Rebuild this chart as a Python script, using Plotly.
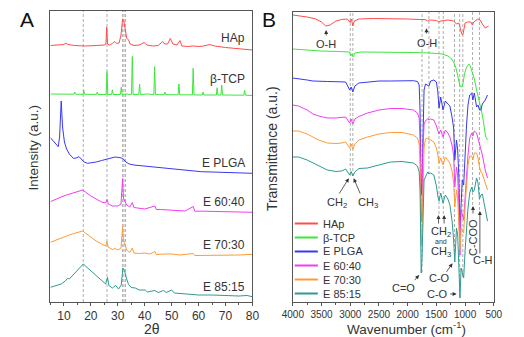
import plotly.graph_objects as go

# ---------------- Panel A : XRD (2theta, intensity a.u.) ----------------
xrd_hap = [(5, 256.5), (8, 257), (10, 257.5), (10.8, 259), (11.5, 257.5), (14, 256.5), (18, 256),
           (22, 256.5), (25, 257), (25.6, 258), (25.9, 275), (26.2, 258), (27, 257), (28, 258.5),
           (28.9, 260.5), (29.6, 258.5), (30.5, 259), (31.2, 267), (31.8, 283), (32.2, 282),
           (32.6, 275), (32.9, 272), (33.3, 264), (34.0, 262), (34.6, 258), (36, 256.5), (38, 257),
           (39.8, 259.5), (40.8, 257), (43, 256), (45, 256.5), (46.7, 260.5), (47.5, 258), (48.5, 258),
           (49.5, 263.5), (50.5, 258), (52, 257), (53.1, 261.5), (53.8, 256), (56, 255.5), (58, 256),
           (60, 255.5), (62, 256), (64, 257.5), (66, 256), (70, 254.5), (74, 253.5), (77, 253), (80, 252)]

xrd_tcp = [(5, 208), (10, 208), (13.7, 207.8), (14.0, 210), (14.3, 207.8), (17.1, 207.7), (17.4, 211.7),
           (17.7, 207.7), (20, 208), (22.1, 207.6), (22.4, 210), (22.7, 207.6), (25.7, 207.5), (26.0, 230.5),
           (26.3, 207.5), (27.7, 207.5), (28.0, 212.2), (28.3, 207.5), (31.0, 207.5), (31.3, 214.7),
           (31.6, 207.5), (33, 208), (35.1, 207.5), (35.4, 245.5), (35.7, 207.5), (37.8, 207.5),
           (38.1, 218), (38.4, 207.5), (41, 208), (43.4, 207.4), (43.7, 235.3), (44.0, 207.4),
           (47.2, 207.3), (47.5, 210), (47.8, 207.3), (50, 207.5), (52.4, 207.2), (52.7, 218),
           (53.0, 207.2), (55, 207.2), (57.7, 207.1), (58.0, 233.7), (58.3, 207.1), (61.4, 207),
           (61.7, 210), (62.0, 207), (64, 207.2), (66.6, 207), (66.9, 214.3), (67.2, 207), (68.3, 207),
           (68.6, 217), (68.9, 207), (72, 207), (76.8, 206.8), (77.1, 211.7), (77.4, 206.8), (80, 206.5)]

xrd_plga = [(5, 164.3), (6, 161), (7, 158), (7.9, 155.3), (8.4, 165), (9.0, 201), (9.5, 175), (10.2, 160),
            (11, 153), (12, 148), (13.5, 143.7), (14.6, 144), (15.6, 145.3), (16.5, 143), (17.5, 140),
            (18.8, 138.7), (20, 139), (22, 140), (24, 141.5), (26, 143), (28, 144.5), (29, 145),
            (30.5, 144.5), (31.8, 143.7), (33, 140), (34.3, 138), (36, 137), (38, 136.5), (40, 136),
            (45, 134.5), (48, 133.7), (50, 133), (55, 132), (57, 131.7), (61, 130.3), (65, 130),
            (70, 129.5), (75, 129), (80, 128.7)]

xrd_6040 = [(5, 100.3), (7, 103), (9, 105), (11, 107), (13, 108.5), (15, 110), (17, 112), (18, 110),
            (20, 106), (22, 103), (24, 100), (25.5, 99), (26.0, 102.5), (26.5, 98), (28, 96), (30, 96),
            (31.2, 98), (31.8, 123.5), (32.1, 104), (32.6, 101), (33.3, 97), (34.5, 95), (35.4, 99.5),
            (36, 94.5), (38, 94), (40, 93), (43.8, 96), (44.3, 92.5), (46, 92.5), (48, 92), (50, 91.5),
            (53, 91.5), (55, 91), (58.0, 95.5), (58.6, 90.8), (62, 90.8), (66, 90.5), (70, 90.5),
            (75, 90), (80, 89.7)]

xrd_7030 = [(5, 59.7), (7, 62), (9, 64), (11, 66), (13, 68), (15, 69.5), (17, 71), (18, 69), (20, 65),
            (22, 61), (24, 58), (25.5, 56), (26.0, 60.5), (26.4, 55), (28, 52.5), (29, 53.5), (30, 52),
            (31.2, 54), (31.8, 75.3), (32.1, 62), (32.6, 58), (33.3, 52), (34.5, 49.5), (35.4, 54),
            (36, 49), (38, 48.5), (40, 49), (42, 48), (43.8, 50.5), (44.3, 47.5), (47, 48), (50, 48),
            (53, 47), (58, 48.5), (58.6, 46.5), (62, 46.5), (66, 47), (70, 47), (75, 47), (80, 47.7)]

xrd_8515 = [(5, 14.7), (7, 16), (9, 18), (10.5, 21), (11.4, 23.7), (12, 23), (13, 26), (15, 32),
            (16.5, 37), (17.2, 38), (18, 36), (20, 31), (22, 26), (24, 21), (25.5, 18), (26.2, 24.7),
            (26.7, 16.5), (28, 14), (29.2, 16.5), (30.3, 13), (31.3, 17), (31.9, 34), (32.5, 31.5),
            (33.2, 24), (34, 17.5), (35, 14.5), (36.5, 14), (38, 12), (40.2, 12), (41, 10), (43.8, 11.5),
            (45, 9.5), (47, 11.5), (48, 9.5), (50, 12), (51, 9), (55, 8), (60, 7), (65, 7), (70, 6.5),
            (75, 6), (78, 6.5), (80, 5.3)]

xrd_ref_lines = [17.2, 26.0, 31.8, 32.3, 32.9]

# ---------------- Panel B : FTIR (wavenumber, transmittance a.u.) ----------------
ftir_hap = [(4000, 287), (3900, 286.5), (3750, 285), (3600, 283), (3500, 280), (3430, 276), (3350, 277),
            (3250, 281), (3150, 282.5), (3050, 283), (3000, 279.5), (2980, 283), (2955, 276), (2930, 281),
            (2850, 283), (2600, 283.5), (2300, 283.5), (2000, 283), (1800, 282.5), (1700, 282.5),
            (1650, 281), (1630, 282), (1600, 282), (1500, 281.5), (1460, 280), (1420, 281), (1300, 282),
            (1200, 281), (1150, 278), (1110, 279), (1090, 275), (1060, 268), (1040, 267), (1020, 273),
            (1000, 279), (960, 280), (900, 280), (875, 277), (850, 280), (780, 283), (740, 282),
            (700, 278), (650, 274), (620, 275), (590, 276)]

ftir_tcp = [(4000, 253), (3800, 252), (3500, 251), (3200, 250.5), (3010, 250), (2990, 246), (2970, 248),
            (2950, 245), (2920, 249), (2800, 250), (2500, 250), (2200, 250), (1900, 249.5), (1600, 249),
            (1400, 248), (1300, 246), (1250, 244), (1200, 240), (1160, 234), (1120, 224), (1090, 216),
            (1060, 215), (1040, 218), (1010, 228), (980, 234), (950, 237), (935, 238), (910, 236),
            (880, 230), (860, 226), (835, 222), (800, 212), (780, 207), (760, 202), (723, 192),
            (700, 187), (667, 175), (645, 166), (612, 162)]

wn_poly = [4000, 3900, 3750, 3650, 3550, 3400, 3250, 3150, 3080, 3010, 2985, 2955, 2920, 2850, 2700,
           2500, 2300, 2100, 1900, 1830, 1800, 1785, 1765, 1750, 1735, 1715, 1690, 1650, 1630, 1600,
           1545, 1500, 1475, 1455, 1425, 1385, 1345, 1300, 1265, 1225, 1200, 1180, 1150, 1130, 1110,
           1090, 1070, 1050, 1025, 1000, 975, 950, 920, 885, 865, 840, 800, 775, 750, 725, 700, 650, 610]

t_plga = [224, 223.5, 222, 221, 220.5, 220.5, 220.3, 220.5, 220, 212,
          215, 210, 216, 219, 220, 221, 221, 221.5, 221.3, 220.5,
          217, 192, 107, 120, 182, 212, 218, 217, 216, 221,
          222, 220, 210, 194, 205, 192, 201, 198, 196, 184,
          174, 142, 162, 152, 127, 72, 102, 122, 117, 152,
          177, 197, 207, 209, 202, 209, 195, 197, 192, 192,
          198, 202, 207]

t_6040 = [197, 196, 192, 188, 186, 184, 184, 185, 185, 179,
          183, 178, 183, 185.5, 189, 192, 193.5, 193.5, 192, 189,
          184, 162, 80, 94, 152, 178, 181, 183.5, 182, 183,
          182, 176, 171, 168, 172, 165, 172, 169, 165, 156,
          147, 115, 135, 127, 97, 47, 92, 87, 82, 105,
          127, 147, 164, 169, 166, 171, 169, 164, 159, 152,
          147, 132, 124]

t_7030 = [171, 171, 168, 165, 162, 159, 158.5, 159, 160, 154,
          158, 153, 158, 162, 165, 168, 169.5, 169.5, 167, 164,
          158, 137, 57, 70, 127, 154, 163, 164, 162, 162,
          160, 154, 147, 139, 144, 137, 145, 142, 139, 130,
          120, 95, 112, 104, 77, 52, 74, 72, 69, 97,
          117, 137, 146, 146, 142, 149, 149, 144, 135, 130,
          128, 120, 112]

t_8515 = [145, 145, 142, 139, 136, 132, 130.5, 131, 133, 127,
          130.5, 126, 130, 133.5, 134, 137, 140, 140.5, 139, 136,
          130, 112, 29, 44, 97, 122, 125, 130, 128, 129,
          127, 116, 106, 101, 109, 99, 107, 103, 97, 80,
          62, 40, 74, 67, 37, 4, 34, 28, 24, 52,
          74, 94, 109, 115, 110, 112, 124, 119, 103, 107,
          108, 92, 81]

ftir_ref_lines = [3000, 2955, 1750, 1630, 1455, 1380, 1185, 1095, 1040, 870, 750]
ftir_ref_bottom = [126, 126, 30, 128, 88, 88, 40, 5, 25, 97, 92]

for arr in (t_plga, t_6040, t_7030, t_8515):
    assert len(arr) == len(wn_poly)

names = ["HAp", "β-TCP", "E PLGA", "E 60:40", "E 70:30", "E 85:15"]
colors = ["#ff4c4c", "#3de63d", "#3838f0", "#f03cf0", "#ff9a35", "#2f9a90"]
label_y_A = [264, 223, 139, 100, 57, 15]

FONT = "Arial, Liberation Sans, sans-serif"
TXT = "#333333"
AX = "#555555"
W, H = 524, 337


def px(x):
    return x / W


def py(y):
    return 1 - y / H


fig = go.Figure()

xrd_sets = [xrd_hap, xrd_tcp, xrd_plga, xrd_6040, xrd_7030, xrd_8515]
for name, col, pts in zip(names, colors, xrd_sets):
    fig.add_trace(go.Scatter(x=[p[0] for p in pts], y=[p[1] for p in pts], mode="lines",
                             line=dict(color=col, width=1), name=name, showlegend=False,
                             xaxis="x", yaxis="y"))

ftir_sets = [(list(zip(*ftir_hap))), (list(zip(*ftir_tcp))),
             (wn_poly, t_plga), (wn_poly, t_6040), (wn_poly, t_7030), (wn_poly, t_8515)]
for name, col, (xs, ys) in zip(names, colors, ftir_sets):
    fig.add_trace(go.Scatter(x=list(xs), y=list(ys), mode="lines",
                             line=dict(color=col, width=1), name=name, showlegend=False,
                             xaxis="x2", yaxis="y2"))

shapes = []
for v in xrd_ref_lines:
    shapes.append(dict(type="line", xref="x", yref="y", x0=v, x1=v, y0=0, y1=291,
                       line=dict(color="#9a9a9a", width=0.8, dash="3px,2px"), layer="below"))
for v, b in zip(ftir_ref_lines, ftir_ref_bottom):
    shapes.append(dict(type="line", xref="x2", yref="y2", x0=v, x1=v, y0=b, y1=290,
                       line=dict(color="#9a9a9a", width=0.8, dash="3px,2px"), layer="below"))

# manual compact legend in panel B
ann = []
for i, (name, col) in enumerate(zip(names, colors)):
    yy = 223.5 + 14 * i
    shapes.append(dict(type="line", xref="paper", yref="paper", x0=px(295), x1=px(319),
                       y0=py(yy), y1=py(yy), line=dict(color=col, width=2)))
    ann.append(dict(text=name, xref="paper", yref="paper", x=px(322), y=py(yy), xanchor="left",
                    yanchor="middle", showarrow=False, font=dict(size=11, color=TXT, family=FONT)))

# curve labels in panel A
for name, yv in zip(names, label_y_A):
    ann.append(dict(text=name, xref="x", yref="y", x=78, y=yv, xanchor="right", yanchor="middle",
                    showarrow=False, font=dict(size=12, color=TXT, family=FONT)))

# band labels in panel B
band_labels = [("O-H", 3414, 257.7, 0, 11), ("O-H", 1672, 258.7, 0, 11),
               ("CH<sub>2</sub>", 3235, 98.7, 0, 11), ("CH<sub>3</sub>", 2689, 98.7, 0, 11),
               ("CH<sub>2</sub>", 1426, 70.3, 0, 11), ("and", 1426, 60.8, 0, 7),
               ("CH<sub>3</sub>", 1426, 50.3, 0, 11), ("C-O", 1454, 23.7, 0, 11),
               ("C=O", 2069, 13.7, 0, 11), ("C-O", 1483, 8, 0, 11),
               ("C-COO", 863, 65, -90, 11), ("C-H", 692, 42, 0, 11)]
for t, x, y, ang, fs in band_labels:
    ann.append(dict(text=t, xref="x2", yref="y2", x=x, y=y, textangle=ang, showarrow=False,
                    xanchor="center", yanchor="middle", font=dict(size=fs, color=TXT, family=FONT)))

arrows = [(3419, 265, 3419, 272), (1672, 267, 1672, 273.7), (3208, 107, 3024, 123.7),
          (2816, 107, 2940, 123.7), (1463, 77, 1463, 87), (1366, 77, 1366, 87),
          (1342, 28.7, 1220, 38.7), (1902, 20.3, 1801, 27), (1287, 8, 1148, 8),
          (863, 87, 863, 96), (743, 47, 743, 91)]
for x0, y0, x1, y1 in arrows:
    ann.append(dict(text="", xref="x2", yref="y2", axref="x2", ayref="y2", x=x1, y=y1, ax=x0, ay=y0,
                    showarrow=True, arrowhead=2, arrowsize=1, arrowwidth=0.8, arrowcolor=TXT,
                    standoff=0, startstandoff=0))

# panel letters & axis titles
C = dict(xanchor="center", yanchor="middle", showarrow=False, xref="paper", yref="paper")
ann += [
    dict(text="A", x=px(16.5), y=py(19.5), font=dict(size=21, color="#111", family=FONT), **C),
    dict(text="B", x=px(268), y=py(19.5), font=dict(size=21, color="#111", family=FONT), **C),
    dict(text="2θ", x=px(146.5), y=py(328.5), font=dict(size=14, color=TXT, family=FONT), **C),
    dict(text="Wavenumber (cm<sup>-1</sup>)", x=px(411), y=py(328),
         font=dict(size=13.5, color=TXT, family=FONT), **C),
    dict(text="Intensity (a.u.)", x=px(23), y=py(147.5), textangle=-90,
         font=dict(size=13.5, color=TXT, family=FONT), **C),
    dict(text="Transmittance (a.u.)", x=px(272), y=py(148.5), textangle=-90,
         font=dict(size=14, color=TXT, family=FONT), **C),
]

axis_common = dict(showline=True, linecolor=AX, linewidth=1, mirror=True, showgrid=False,
                   zeroline=False)

fig.update_layout(
    width=W, height=H, autosize=False, margin=dict(l=0, r=0, t=0, b=0),
    paper_bgcolor="white", plot_bgcolor="white",
    xaxis=dict(domain=[px(41), px(251)], anchor="y", range=[5, 80], tick0=0, dtick=10,
               ticks="outside", ticklen=3, tickcolor=AX, tickfont=dict(size=12, color=TXT, family=FONT),
               minor=dict(tick0=0, dtick=5, ticks="outside", ticklen=2, tickcolor=AX, showgrid=False),
               **axis_common),
    yaxis=dict(domain=[py(302), py(11)], anchor="x", range=[0, 291], ticks="",
               showticklabels=False, **axis_common),
    xaxis2=dict(domain=[px(293), px(502)], anchor="y2", range=[4000, 500], tick0=0, dtick=500,
                ticks="outside", ticklen=3, tickcolor=AX, tickfont=dict(size=10, color=TXT, family=FONT),
                minor=dict(tick0=0, dtick=250, ticks="outside", ticklen=2, tickcolor=AX, showgrid=False),
                **axis_common),
    xaxis3=dict(overlaying="x2", anchor="y2", side="top", range=[4000, 500], tick0=0, dtick=250,
                ticks="inside", ticklen=3, tickcolor=AX, showticklabels=False, showline=False,
                showgrid=False, zeroline=False),
    yaxis2=dict(domain=[py(302), py(12)], anchor="x2", range=[0, 290], ticks="",
                showticklabels=False, **axis_common),
    shapes=shapes, annotations=ann,
)

fig.write_html("out.html")
